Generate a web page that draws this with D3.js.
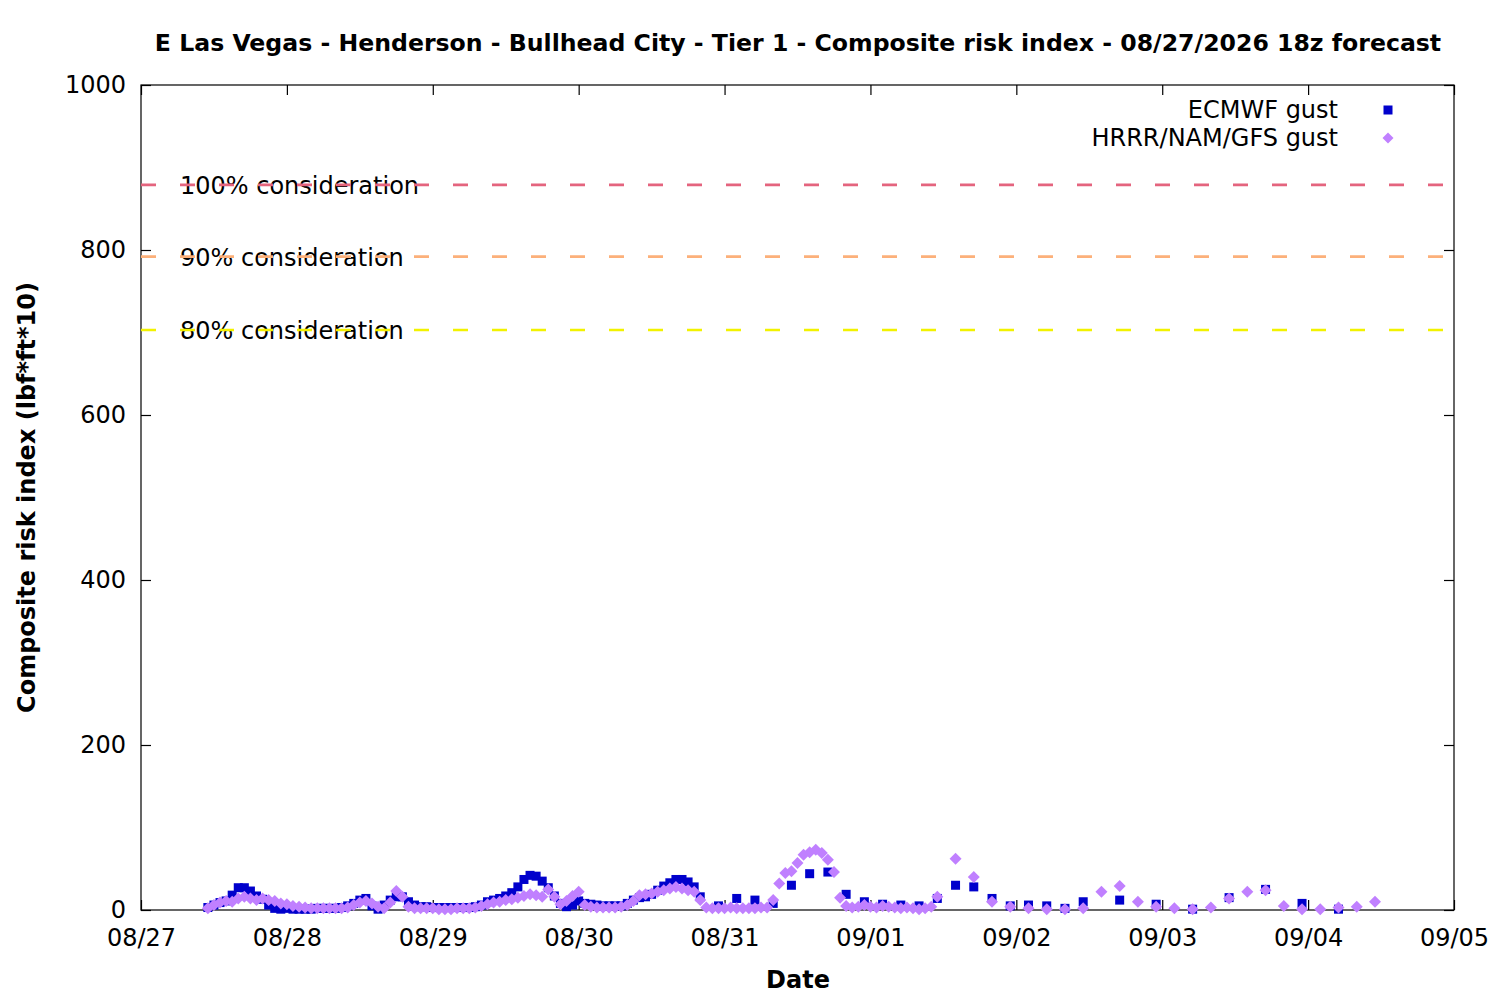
<!DOCTYPE html>
<html>
<head>
<meta charset="utf-8">
<script src="https://cdn.jsdelivr.net/npm/d3@7/dist/d3.min.js"></script>
<style>
html,body{margin:0;padding:0;background:#fff;}
svg{display:block;}
text{font-family:"DejaVu Sans",sans-serif;fill:#000;}
</style>
</head>
<body>
<svg id="chart" width="1500" height="1000"></svg>
<script>
// ---- data (x = hours since 08/27 00:00 local) ----
const dayLabels = ["08/27","08/28","08/29","08/30","08/31","09/01","09/02","09/03","09/04","09/05"];
const dayHours  = [0,24,48,72,96,120,144,168,192,216];
const yTicks = [0,200,400,600,800,1000];

const ecmwfHours = [
  11,12,13,14,15,16,17,18,19,20,21,22,23,24,25,26,27,28,29,30,
  31,32,33,34,35,36,37,38,39,40,41,42,43,44,45,46,47,48,49,50,
  51,52,53,54,55,56,57,58,59,60,61,62,63,64,65,66,67,68,69,70,
  71,72,73,74,75,76,77,78,79,80,81,82,83,84,85,86,87,88,89,90,
  91,92,
  95,98,101,104,107,110,113,116,119,122,125,128,131,134,137,140,143,146,149,152,
  155,161,167,173,179,185,191,197
];
const ecmwfValues = [
  3,6,9,11,18,27,27,23,17,13, 6,2,1,2,1,1,1,1,2,2,
  2,2,3,5,8,12,14,5,1,6, 12,16,16,10,6,4,4,3,3,3,
  3,3,3,3,4,6,10,12,14,17, 21,28,37,42,41,35,27,17,8,4,
  6,11,8,7,6,5,5,5,5,8, 12,15,16,19,24,29,33,37,37,34,
  28,16,
  5,14,12,8,30,44,46,19,10,7,6,5,14,30,28,14,5,6,5,2,
  10,12,7,1,15,25,8,1
];

const hrrrHours = [
  11,12,13,14,15,16,17,18,19,20,21,22,23,24,25,26,27,28,29,30,
  31,32,33,34,35,36,37,38,39,40,41,42,43,44,45,46,47,48,49,50,
  51,52,53,54,55,56,57,58,59,60,61,62,63,64,65,66,67,68,69,70,
  71,72,73,74,75,76,77,78,79,80,81,82,83,84,85,86,87,88,89,90,
  91,92,93,94,95,96,97,98,99,100,101,102,103,104,105,106,107,108,109,110,
  111,112,113,114,115,116,117,118,119,120,121,122,123,124,125,126,127,128,129,130,
  131,
  134,137,140,143,146,149,152,155,158,161,164,167,170,173,176,179,182,185,188,191,194,197,200,203
];
const hrrrValues = [
  2,6,9,11,10,14,16,14,12,14, 12,11,8,7,5,4,3,2,2,2,
  2,2,2,3,6,9,11,8,4,2, 9,23,16,4,2,2,2,2,1,1,
  1,2,2,2,3,5,7,9,10,12, 13,15,17,19,18,16,25,16,7,11,
  17,22,6,4,3,3,3,3,4,6, 11,18,19,20,22,24,26,28,26,24,
  22,12,3,2,2,2,3,2,2,2, 2,3,3,12,32,45,47,57,67,70,
  73,69,61,46,15,5,3,4,6,4, 3,5,4,3,2,3,2,1,2,4,
  16,
  62,40,10,4,2,1,1,2,22,29,10,4,2,1,3,14,22,24,5,1,1,3,4,10
];

const thresholdValues = [879, 792, 703];
const thresholdLabels = ["100% consideration","90% consideration","80% consideration"];
const thresholdColors = ["#e4647e","#fcb07a","#f2f200"];

const seriesNames = ["ECMWF gust","HRRR/NAM/GFS gust"];
const seriesColors = ["#0000cc","#c080ff"];

// ---- layout ----
const L = 141, R = 1454, T = 85, B = 910;
const FS = "24px";
const svg = d3.select("#chart");
const x = d3.scaleLinear().domain([0,216]).range([L,R]);
const y = d3.scaleLinear().domain([0,1000]).range([B,T]);

// title
svg.append("text").attr("x",798).attr("y",51).attr("text-anchor","middle")
  .style("font-size","23.6px").style("font-weight","bold")
  .text("E Las Vegas - Henderson - Bullhead City - Tier 1 - Composite risk index - 08/27/2026 18z forecast");

// axes (ticks inward, mirrored)
const tickLen = 10;
const gx = svg.append("g").attr("transform",`translate(0,${B})`)
  .call(d3.axisBottom(x).tickValues(dayHours).tickFormat((d,i)=>dayLabels[i]).tickSize(-tickLen).tickPadding(19));
const gxt = svg.append("g").attr("transform",`translate(0,${T})`)
  .call(d3.axisTop(x).tickValues(dayHours).tickFormat("").tickSize(-tickLen));
const gy = svg.append("g").attr("transform",`translate(${L},0)`)
  .call(d3.axisLeft(y).tickValues(yTicks).tickFormat(d3.format("d")).tickSize(-tickLen).tickPadding(15));
const gyr = svg.append("g").attr("transform",`translate(${R},0)`)
  .call(d3.axisRight(y).tickValues(yTicks).tickFormat("").tickSize(-tickLen));
[gx,gxt,gy,gyr].forEach(g=>{
  g.select(".domain").remove();
  g.selectAll(".tick line").attr("stroke","#000").attr("stroke-width",1.2);
  g.selectAll("text").style("font-size",FS).style("font-family","DejaVu Sans").attr("fill","#000");
});
gx.selectAll(".tick text").attr("dy","0.71em");

// frame
svg.append("rect").attr("x",L).attr("y",T).attr("width",R-L).attr("height",B-T)
  .attr("fill","none").attr("stroke","#000").attr("stroke-width",1.2);

// axis labels
svg.append("text").attr("x",798).attr("y",988).attr("text-anchor","middle")
  .style("font-size",FS).style("font-weight","bold").text("Date");
svg.append("text").attr("transform",`translate(35,${(T+B)/2}) rotate(-90)`).attr("text-anchor","middle")
  .style("font-size",FS).style("font-weight","bold").text("Composite risk index (lbf*ft*10)");

// threshold labels then dashed lines on top
thresholdValues.forEach((v,i)=>{
  svg.append("text").attr("x",180).attr("y",y(v)+9)
    .style("font-size",FS).text(thresholdLabels[i]);
});
thresholdValues.forEach((v,i)=>{
  svg.append("line").attr("x1",L).attr("x2",R-10).attr("y1",y(v)).attr("y2",y(v))
    .attr("stroke",thresholdColors[i]).attr("stroke-width",2.6)
    .attr("stroke-dasharray","15,24");
});

// ECMWF squares
const sq = 9;
svg.append("g").selectAll("rect").data(ecmwfHours.map((h,i)=>[h,ecmwfValues[i]]))
  .join("rect")
  .attr("x",d=>x(d[0])-sq/2).attr("y",d=>y(d[1])-sq/2)
  .attr("width",sq).attr("height",sq).attr("fill",seriesColors[0]);

// HRRR diamonds
const dm = 6;
const diamond = (cx,cy,r)=>`M${cx},${cy-r}L${cx+r},${cy}L${cx},${cy+r}L${cx-r},${cy}Z`;
svg.append("g").selectAll("path").data(hrrrHours.map((h,i)=>[h,hrrrValues[i]]))
  .join("path")
  .attr("d",d=>diamond(x(d[0]),y(d[1]),dm)).attr("fill",seriesColors[1]);

// legend
const legY = [110,138];
seriesNames.forEach((n,i)=>{
  svg.append("text").attr("x",1338).attr("y",legY[i]+8).attr("text-anchor","end")
    .style("font-size",FS).text(n);
});
svg.append("rect").attr("x",1388-4.5).attr("y",legY[0]-4.5).attr("width",9).attr("height",9).attr("fill",seriesColors[0]);
svg.append("path").attr("d",diamond(1388,legY[1],5.5)).attr("fill",seriesColors[1]);
</script>
</body>
</html>
